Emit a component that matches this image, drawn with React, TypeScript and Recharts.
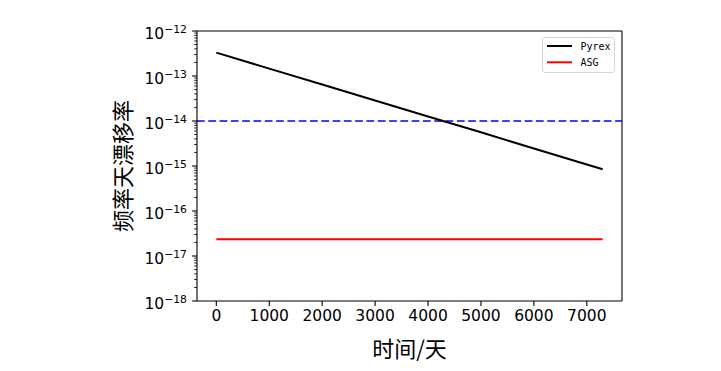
import {
  ComposedChart,
  Line,
  XAxis,
  YAxis,
  ReferenceLine,
  Legend,
} from 'recharts';

// days since start
const days = [0, 1000, 2000, 3000, 4000, 5000, 6000, 7000, 7300];
// daily frequency drift rate
const pyrex = [3.3e-13, 1.46e-13, 6.5e-14, 2.85e-14, 1.26e-14, 5.6e-15, 2.45e-15, 1.08e-15, 8.5e-16];
const asg = [2.35e-17, 2.35e-17, 2.35e-17, 2.35e-17, 2.35e-17, 2.35e-17, 2.35e-17, 2.35e-17, 2.35e-17];

const xTicks = [0, 1000, 2000, 3000, 4000, 5000, 6000, 7000];
const yMajor = [1e-18, 1e-17, 1e-16, 1e-15, 1e-14, 1e-13, 1e-12];
const limitLine = 1e-14;
const X_DOMAIN = [-365, 7665];
const Y_DOMAIN = [1e-18, 1e-12];

const yTicks: number[] = [];
yMajor.forEach((m, i) => {
  yTicks.push(m);
  if (i < yMajor.length - 1) {
    [2, 3, 4, 5, 6, 7, 8, 9].forEach((k) => yTicks.push(k * m));
  }
});

const rows = days.map((d, i) => ({ day: d, pyrex: pyrex[i], asg: asg[i] }));

const TICK_FONT = '"DejaVu Sans", sans-serif';
const CJK_FONT = '"Noto Sans CJK SC", sans-serif';
const SPINE = { stroke: '#000', strokeWidth: 1.1 };

function YTick({ x, y, payload }: any) {
  const v = payload.value as number;
  const exp = Math.round(Math.log10(v));
  const major = Math.abs(v - Math.pow(10, exp)) < 1e-3 * Math.pow(10, exp);
  return (
    <g>
      <line
        x1={x - (major ? 4.9 : 2.8)}
        x2={x}
        y1={y}
        y2={y}
        stroke="#000"
        strokeWidth={major ? 1.1 : 0.85}
      />
      {major && (
        <text x={x - 10} y={y + 7.7} textAnchor="end" fontFamily={TICK_FONT} fontSize={15.5} fill="#000">
          <tspan>10</tspan>
          <tspan dy={-5.4} fontSize={10.8}>{'\u2212' + -exp}</tspan>
        </text>
      )}
    </g>
  );
}

const LEGEND_ORDER = ['Pyrex', 'ASG'];

function LegendBox({ payload }: any) {
  const items = LEGEND_ORDER.map((n) => (payload || []).find((p: any) => p.value === n)).filter(Boolean);
  return (
    <div
      style={{
        width: 73,
        height: 36,
        boxSizing: 'border-box',
        border: '1px solid #d6d6d6',
        borderRadius: 3,
        background: 'rgba(255,255,255,0.8)',
      }}
    >
      <svg width={71} height={34} style={{ display: 'block' }}>
        {items.map((it: any, i: number) => (
          <g key={it.value}>
            <line x1={4} x2={29} y1={8 + i * 16.3} y2={8 + i * 16.3} stroke={it.color} strokeWidth={2} />
            <text
              x={37.5}
              y={8 + i * 16.3}
              dominantBaseline="central"
              fontFamily='"DejaVu Sans Mono", monospace'
              fontSize={10}
              fill="#000"
            >
              {it.value}
            </text>
          </g>
        ))}
      </svg>
    </div>
  );
}

export default function App() {
  return (
    <div style={{ position: 'absolute', left: 0, top: 0, background: '#fff' }}>
      <ComposedChart width={721} height={371} data={rows} margin={{ top: 31, right: 99, bottom: 0, left: 0 }}>
        <XAxis
          dataKey="day"
          type="number"
          domain={X_DOMAIN}
          allowDataOverflow
          ticks={xTicks}
          interval={0}
          height={70}
          tickSize={4.9}
          tickMargin={4}
          tickLine={SPINE}
          axisLine={SPINE}
          tick={{ fontFamily: TICK_FONT, fontSize: 15.5, fill: '#000' }}
          label={{
            value: '时间/天',
            content: (p: any) => {
              const vb = p.viewBox || { x: 197, y: 301, width: 425, height: 70 };
              return (
                <text
                  x={vb.x + vb.width / 2}
                  y={vb.y + 46}
                  textAnchor="middle"
                  dominantBaseline="central"
                  fontFamily={CJK_FONT}
                  fontSize={22}
                  fill="#000"
                >
                  时间/天
                </text>
              );
            },
          }}
        />
        <YAxis
          type="number"
          scale="log"
          domain={Y_DOMAIN}
          allowDataOverflow
          ticks={yTicks}
          interval={0}
          width={197}
          tickSize={0}
          tickMargin={0}
          tickLine={false}
          axisLine={SPINE}
          tick={<YTick />}
          label={{
            value: '频率天漂移率',
            content: (p: any) => {
              const vb = p.viewBox || { x: 0, y: 31, width: 197, height: 270 };
              const cx = 121;
              const cy = vb.y + vb.height / 2;
              return (
                <text
                  x={cx}
                  y={cy}
                  transform={`rotate(-90, ${cx}, ${cy})`}
                  textAnchor="middle"
                  dominantBaseline="central"
                  fontFamily={CJK_FONT}
                  fontSize={22}
                  fill="#000"
                >
                  频率天漂移率
                </text>
              );
            },
          }}
        />
        {/* top and right spines */}
        <ReferenceLine y={Y_DOMAIN[1]} {...SPINE} />
        <ReferenceLine x={X_DOMAIN[1]} {...SPINE} />
        <ReferenceLine y={limitLine} stroke="#0000ff" strokeWidth={1.4} strokeDasharray="7.7 3.6" />
        <Line
          dataKey="pyrex"
          name="Pyrex"
          type="linear"
          stroke="#000000"
          strokeWidth={2}
          dot={false}
          isAnimationActive={false}
        />
        <Line
          dataKey="asg"
          name="ASG"
          type="linear"
          stroke="#ff0000"
          strokeWidth={2}
          dot={false}
          isAnimationActive={false}
        />
        <Legend
          layout="horizontal"
          verticalAlign="middle"
          content={<LegendBox />}
          wrapperStyle={{ position: 'absolute', left: 542, top: 37, width: 73, height: 36 }}
        />
      </ComposedChart>
    </div>
  );
}
